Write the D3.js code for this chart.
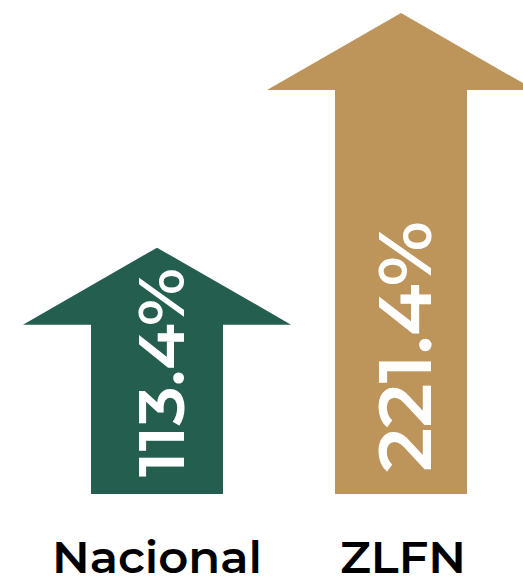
<!DOCTYPE html>
<html>
<head>
<meta charset="utf-8">
<script src="https://cdn.jsdelivr.net/npm/d3@7"></script>
<style>
  html, body { margin: 0; padding: 0; background: #fff; overflow: hidden; }
  svg { display: block; }
</style>
</head>
<body>
<svg id="chart" width="523" height="583"></svg>
<script>
// ---- data ----
const categories = ["Nacional", "ZLFN"];
const values = [113.4, 221.4];
const valueLabels = ["113.4%", "221.4%"];
const colors = ["#245E4F", "#BD955A"];

// ---- layout ----
const W = 523, H = 583;
const baseline = 494, topY = 13;
const headHalf = 134, shaftHalf = 66, headH = 77;
const font = "Montserrat, Inter, 'Noto Sans', sans-serif";

const svg = d3.select("#chart");

const x = d3.scaleBand().domain(categories).range([35, 523]).padding(0);
const y = d3.scaleLinear().domain([0, d3.max(values)]).range([baseline, topY]);

const rows = categories.map((c, i) => ({ c, v: values[i], label: valueLabels[i], color: colors[i] }));

function arrowPath(d) {
  const cx = x(d.c) + x.bandwidth() / 2;
  const t = y(d.v), b = y(0);
  const hb = t + headH;
  return `M${cx},${t} L${cx + headHalf},${hb} L${cx + shaftHalf},${hb} L${cx + shaftHalf},${b} ` +
         `L${cx - shaftHalf},${b} L${cx - shaftHalf},${hb} L${cx - headHalf},${hb} Z`;
}

svg.selectAll("path.arrow").data(rows).join("path")
  .attr("class", "arrow")
  .attr("d", arrowPath)
  .attr("fill", d => d.color);

// rotated value labels (size grows with value)
const fs = d3.scaleLinear().domain([113.4, 221.4]).range([65, 74]);
const tl = d3.scaleLinear().domain([113.4, 221.4]).range([209, 251]);
svg.selectAll("text.val").data(rows).join("text")
  .attr("class", "val")
  .attr("transform", d => {
    const cx = x(d.c) + x.bandwidth() / 2;
    const size = fs(d.v);
    const bx = cx + 3 + size * 0.727 / 2;
    const by = y(0) - 17 - (d.v > 150 ? 5 : 0);
    return `translate(${bx},${by}) rotate(-90)`;
  })
  .attr("text-anchor", "start")
  .attr("font-family", font)
  .attr("font-weight", 600)
  .attr("font-size", d => fs(d.v))
  .attr("textLength", d => tl(d.v))
  .attr("lengthAdjust", "spacingAndGlyphs")
  .attr("fill", "#fff")
  .text(d => d.label);

// category labels
const catLen = [210, 126];
svg.selectAll("text.cat").data(rows).join("text")
  .attr("class", "cat")
  .attr("x", d => x(d.c) + x.bandwidth() / 2 + (d.v > 150 ? 2 : 0))
  .attr("y", 573)
  .attr("text-anchor", "middle")
  .attr("font-family", font)
  .attr("font-weight", 600)
  .attr("font-size", 44)
  .attr("textLength", (d, i) => catLen[i])
  .attr("lengthAdjust", "spacingAndGlyphs")
  .attr("fill", "#000")
  .text(d => d.c);
</script>
</body>
</html>
